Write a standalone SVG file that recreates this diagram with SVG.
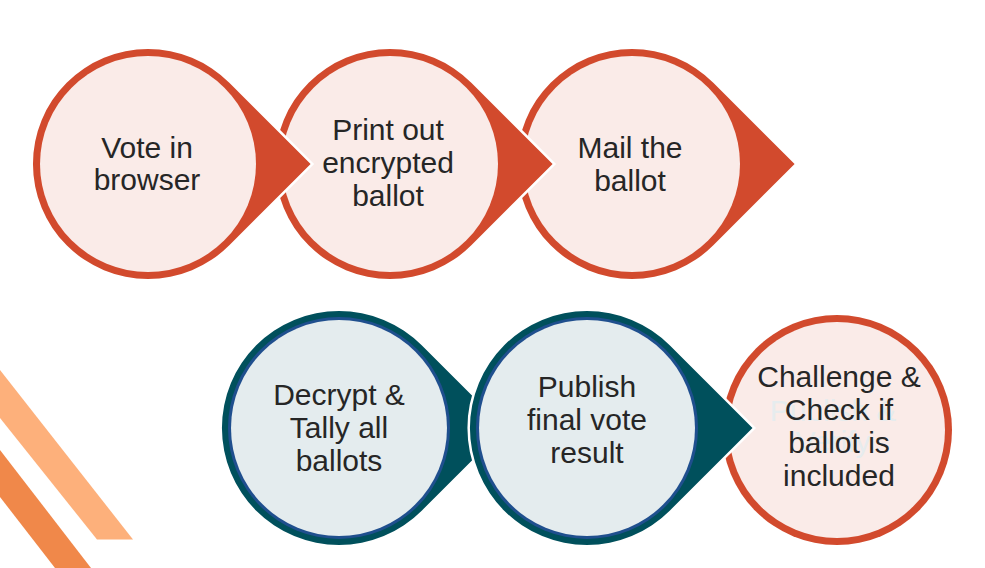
<svg xmlns="http://www.w3.org/2000/svg" width="985" height="568" viewBox="0 0 985 568">
  <style>
    .red { fill: #D24A2D; stroke: #FFFFFF; stroke-width: 5; paint-order: stroke; }
    .pinkin { fill: #FAEBE8; }
    .teal { fill: #00505C; stroke: #FFFFFF; stroke-width: 5; paint-order: stroke; }
    .bluering { fill: #1F4F8E; }
    .grayin { fill: #E4ECEE; }
    .lbl { font-family: "Liberation Sans", Arial, sans-serif; font-size: 30px; fill: #262626; text-anchor: middle; }
    .ghost { font-family: "Liberation Sans", Arial, sans-serif; font-size: 30px; fill: #E6ECEE; text-anchor: middle; }
  </style>
  <rect width="985" height="568" fill="#FFFFFF"/>
  <g id="decoration">
    <polygon points="0,370 133,539.5 97,539.5 0,418" fill="#FDB07B"/>
    <polygon points="0,450 91,568 55,568 0,497" fill="#F0884A"/>
  </g>
  <g id="connectors"></g>
  <g id="node3">
    <path class="red" d="M794.6,164 L713.3,82.7 A115,115 0 1 0 713.3,245.3 Z"/>
    <circle class="pinkin" cx="632" cy="164" r="108"/>
    <text class="lbl" x="630" y="158">Mail the</text>
    <text class="lbl" x="630" y="191">ballot</text>
  </g>
  <g id="node2">
    <path class="red" d="M552.6,164 L471.3,82.7 A115,115 0 1 0 471.3,245.3 Z"/>
    <circle class="pinkin" cx="390" cy="164" r="108"/>
    <text class="lbl" x="388" y="140">Print out</text>
    <text class="lbl" x="388" y="173">encrypted</text>
    <text class="lbl" x="388" y="206">ballot</text>
  </g>
  <g id="node1">
    <path class="red" d="M310.6,164 L229.3,82.7 A115,115 0 1 0 229.3,245.3 Z"/>
    <circle class="pinkin" cx="148" cy="164" r="108"/>
    <text class="lbl" x="147" y="158">Vote in</text>
    <text class="lbl" x="147" y="190">browser</text>
  </g>
  <g id="node6">
    <circle cx="837" cy="430" r="115" fill="#D24A2D" stroke="#FFFFFF" stroke-width="5" paint-order="stroke"/>
    <circle class="pinkin" cx="837" cy="430" r="108"/>
    <text class="ghost" x="833" y="421">Publish &amp;</text>
    <text class="ghost" x="833" y="452">Verify</text>
    <text class="lbl" x="839" y="387">Challenge &amp;</text>
    <text class="lbl" x="839" y="420">Check if</text>
    <text class="lbl" x="839" y="453">ballot is</text>
    <text class="lbl" x="839" y="486">included</text>
  </g>
  <g id="node4">
    <path class="teal" d="M504.5,428 L421.7,345.3 A117,117 0 1 0 421.7,510.7 Z"/>
    <circle class="bluering" cx="339" cy="428" r="111"/>
    <circle class="grayin" cx="339" cy="428" r="108"/>
    <text class="lbl" x="339" y="405">Decrypt &amp;</text>
    <text class="lbl" x="339" y="438">Tally all</text>
    <text class="lbl" x="339" y="471">ballots</text>
  </g>
  <g id="node5">
    <path class="teal" d="M752.5,428 L669.7,345.3 A117,117 0 1 0 669.7,510.7 Z"/>
    <circle class="bluering" cx="587" cy="428" r="111"/>
    <circle class="grayin" cx="587" cy="428" r="108"/>
    <text class="lbl" x="587" y="397">Publish</text>
    <text class="lbl" x="587" y="430">final vote</text>
    <text class="lbl" x="587" y="463">result</text>
  </g>
</svg>
